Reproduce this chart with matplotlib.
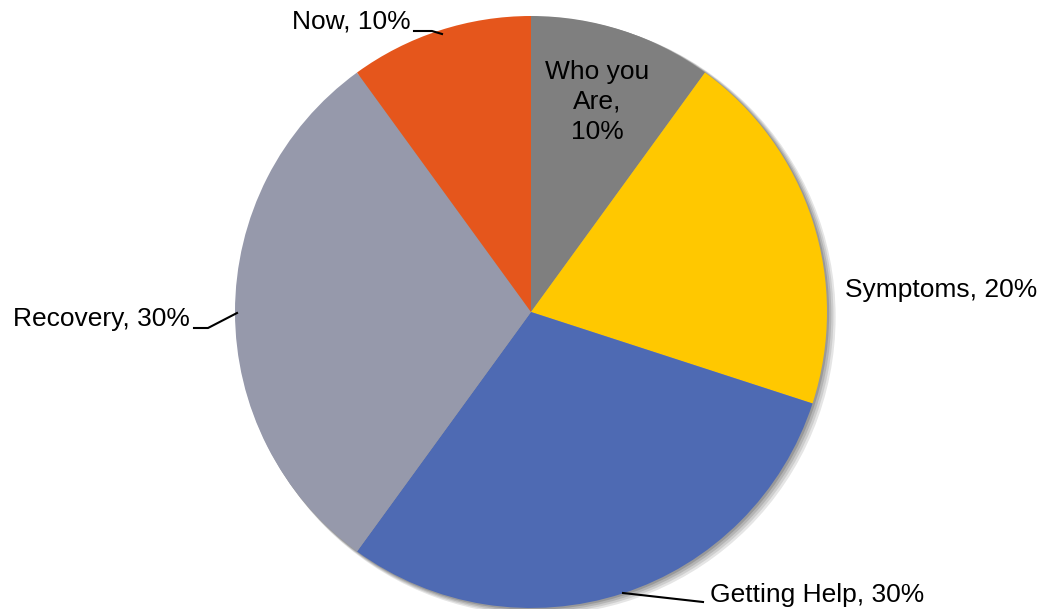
import numpy as np
import matplotlib.pyplot as plt
from matplotlib.patches import Circle

plt.rcParams['font.family'] = ['Liberation Sans', 'DejaVu Sans']

labels = ["Who you Are", "Symptoms", "Getting Help", "Recovery", "Now"]
values = [10, 20, 30, 30, 10]
colors = ["#7f7f7f", "#ffc800", "#4e6ab3", "#9699ab", "#e5561c"]

W, H = 1042, 609
cx, cy, R = 531, 312, 296


def px(x, y):
    # pixel (from top-left) -> data coords with pie radius 1
    return (x - cx) / R, (cy - y) / R


fig = plt.figure(figsize=(W / 100, H / 100), dpi=100)
ax = fig.add_axes([0, 0, 1, 1])

# soft shadow
for i, a in enumerate([0.10, 0.10, 0.12, 0.15]):
    off = (4 - i) * 1.2 / R
    ax.add_patch(Circle((off * 1.3, -off), 1 + (4 - i) * 0.6 / R,
                        color="black", alpha=a, lw=0, zorder=0))

ax.pie(values, colors=colors, startangle=90, counterclock=False,
       radius=1, center=(0, 0), frame=True,
       wedgeprops=dict(linewidth=0, zorder=1))
ax.set_xlim(-cx / R, (W - cx) / R)
ax.set_ylim(-(H - cy) / R, cy / R)
ax.axis("off")

fs = 19
pcts = ["%d%%" % v for v in values]

ax.text(*px(597, 102), "Who you\nAre,\n" + pcts[0], ha="center", va="center",
        fontsize=fs, linespacing=1.3)
ax.text(*px(845, 290), labels[1] + ", " + pcts[1], ha="left", va="center", fontsize=fs)
ax.text(*px(710, 595), labels[2] + ", " + pcts[2], ha="left", va="center", fontsize=fs)
ax.text(*px(190, 319), labels[3] + ", " + pcts[3], ha="right", va="center", fontsize=fs)
ax.text(*px(411, 22), labels[4] + ", " + pcts[4], ha="right", va="center", fontsize=fs)

# leader lines
leaders = [
    [(703, 602), (623, 593)],
    [(194, 328), (208, 328), (237, 313)],
    [(414, 31), (432, 31), (442, 34)],
]
for pts in leaders:
    xs, ys = zip(*[px(x, y) for x, y in pts])
    ax.plot(xs, ys, color="black", lw=1.5, zorder=3)

fig.savefig("out.png", dpi=100)
